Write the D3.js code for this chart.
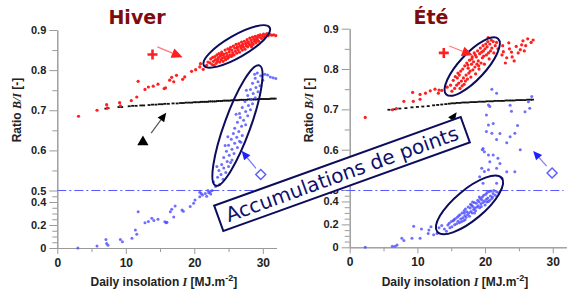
<!DOCTYPE html>
<html>
<head>
<meta charset="utf-8">
<script src="https://cdn.jsdelivr.net/npm/d3@7"></script>
<style>
body { margin: 0; background: #fff; }
svg text { font-family: "Liberation Sans", Arial, sans-serif; }
.axis .domain, .axis line { stroke: #9a9a9a; stroke-width: 1; }
.axis text { font-weight: bold; font-size: 11px; fill: #222; }
.axis.xax text { font-size: 12px; }
</style>
</head>
<body>
<svg id="chart" width="572" height="293"></svg>
<script>
// ---- data: [daily insolation, ratio B/I] ----
var hiverRed = [
	[3.1,0.685],[5.8,0.700],[7.2,0.714],[7.3,0.706],[9.1,0.719],[9.2,0.711],[10.8,0.724],[11.6,0.733],
	[11.8,0.772],[12.8,0.752],[13.3,0.758],[14.0,0.760],[14.7,0.765],[15.6,0.754],[15.8,0.756],[16.4,0.775],
	[16.7,0.782],[17.0,0.771],[17.4,0.787],[18.3,0.777],[18.6,0.783],[19.6,0.797],[20.2,0.801],[20.8,0.808],
	[20.9,0.816],[21.3,0.802],[21.8,0.812],[22.0,0.820],
	[22.3,0.818],[22.4,0.828],[22.6,0.814],[22.7,0.832],[22.8,0.822],[22.9,0.812],[23.0,0.834],[23.1,0.826],
	[23.2,0.817],[23.3,0.838],[23.4,0.822],[23.5,0.831],[23.6,0.841],[23.7,0.820],[23.8,0.835],[23.9,0.826],
	[24.0,0.845],[24.1,0.830],[24.2,0.822],[24.3,0.840],[24.4,0.833],[24.5,0.850],[24.6,0.828],[24.7,0.842],
	[24.8,0.836],[24.9,0.853],[25.0,0.832],[25.1,0.846],[25.2,0.838],[25.3,0.857],[25.4,0.834],[25.5,0.850],
	[25.6,0.843],[25.7,0.860],[25.8,0.838],[25.9,0.855],[26.0,0.847],[26.1,0.864],[26.2,0.842],[26.3,0.858],
	[26.4,0.850],[26.5,0.866],[26.6,0.845],[26.7,0.860],[26.8,0.855],[26.9,0.870],[27.0,0.850],[27.1,0.864],
	[27.2,0.857],[27.3,0.872],[27.4,0.852],[27.5,0.866],[27.6,0.861],[27.7,0.876],[27.8,0.858],[27.9,0.870],
	[28.0,0.865],[28.1,0.880],[28.2,0.862],[28.3,0.874],[28.4,0.868],[28.5,0.882],[28.6,0.864],[28.7,0.877],
	[28.8,0.872],[28.9,0.884],[29.0,0.868],[29.1,0.880],[29.2,0.876],[29.3,0.886],[29.4,0.872],[29.5,0.882],
	[29.6,0.888],[29.8,0.879],[29.9,0.886],[30.1,0.890],[30.2,0.882],[30.4,0.887],[30.6,0.891],[30.8,0.886],
	[31.0,0.889],[31.3,0.887],[31.6,0.888],[31.9,0.886],
	[23.45,0.828],[24.15,0.838],[24.85,0.829],[25.55,0.837],[26.25,0.855],[26.95,0.861],[27.65,0.868],
	[28.35,0.858],[29.05,0.875],[25.15,0.852],[24.55,0.826],[23.85,0.840]
];
var hiverBlack = [
	[7.1,0.704],[7.4,0.705],[9.0,0.708],[9.4,0.708],[10.5,0.710],[11.0,0.711],[11.5,0.711],[12.2,0.712],
	[12.6,0.712],[13.4,0.713],[13.9,0.714],[14.4,0.714],[14.9,0.715],[15.3,0.715],[15.7,0.716],[16.2,0.716],
	[16.9,0.717],[17.5,0.717],[18.0,0.718],[18.4,0.718],[18.8,0.719],[19.2,0.719],[19.6,0.719],[20.0,0.720],
	[20.3,0.720],[20.7,0.720],[21.0,0.721],[21.3,0.721],[21.6,0.721],[21.9,0.721],[22.2,0.722],[22.5,0.722],
	[22.8,0.722],[23.1,0.722],[23.4,0.723],[23.7,0.723],[24.0,0.723],[24.3,0.724],[24.6,0.724],[24.9,0.724],
	[25.2,0.724],[25.5,0.725],[25.8,0.725],[26.1,0.725],[26.4,0.725],[26.7,0.726],[27.0,0.726],[27.3,0.726],
	[27.6,0.726],[27.9,0.727],[28.2,0.727],[28.5,0.727],[28.8,0.727],[29.1,0.727],[29.4,0.728],[29.7,0.728],
	[30.0,0.728],[30.3,0.728],[30.6,0.728],[30.9,0.728],[31.2,0.729],[31.5,0.729],[31.8,0.729]
];
var hiverBlue = [
	[3.0,0.000],[5.8,0.017],[7.1,0.075],[7.2,0.040],[7.4,0.025],[9.2,0.075],[9.5,0.055],[10.9,0.085],
	[11.4,0.157],[11.6,0.120],[11.8,0.316],[12.8,0.220],[13.3,0.230],[13.8,0.258],[14.1,0.240],[14.7,0.250],
	[15.7,0.229],[15.9,0.220],[16.0,0.225],[16.5,0.316],[16.7,0.336],[17.2,0.365],[17.0,0.270],[18.2,0.330],
	[18.4,0.320],[19.4,0.360],[19.9,0.390],[20.1,0.417],[20.8,0.446],[21.0,0.475],[20.8,0.485],[21.2,0.460],
	[21.6,0.475],[21.8,0.450],[22.0,0.500],[22.3,0.490],[22.6,0.500],[22.1,0.480],[22.4,0.470],
	[23.1,0.510],[23.7,0.515],[22.8,0.522],[24.2,0.528],[23.4,0.533],[23.9,0.540],[24.6,0.545],[23.6,0.550],
	[24.3,0.556],[25.0,0.560],[24.0,0.565],[24.8,0.572],[25.5,0.576],[24.3,0.582],[25.1,0.588],[25.8,0.592],
	[24.7,0.598],[25.5,0.603],[26.3,0.607],[25.0,0.613],[25.9,0.618],[26.6,0.623],[25.4,0.628],[26.2,0.633],
	[27.0,0.637],[25.7,0.642],[26.5,0.647],[25.9,0.655],[26.9,0.660],[27.5,0.664],[26.3,0.670],[27.2,0.675],
	[26.7,0.682],[27.8,0.686],[26.6,0.692],[27.5,0.697],[28.2,0.701],[27.0,0.707],[27.9,0.712],[28.5,0.716],
	[27.4,0.722],[28.3,0.727],[28.9,0.731],[27.8,0.737],[28.6,0.742],[29.3,0.746],[28.2,0.752],[29.0,0.757],
	[29.6,0.761],[28.5,0.767],[29.3,0.771],[30.0,0.775],[28.9,0.780],[29.7,0.786],[30.3,0.790],[29.2,0.793],
	[30.7,0.788],[31.1,0.783],[31.5,0.781],[31.9,0.779],[24.9,0.634],[26.1,0.690],[27.6,0.750],[24.5,0.612],
	[28.8,0.790],[25.3,0.570],[26.8,0.620],[23.3,0.560]
];
var eteRed = [
	[2.3,0.680],[6.3,0.699],[6.9,0.702],[8.0,0.720],[9.3,0.742],[9.4,0.720],[10.4,0.737],[10.4,0.725],
	[11.2,0.740],[11.9,0.746],[12.6,0.750],[13.1,0.740],[13.2,0.748],[13.6,0.747],[14.4,0.755],
	[14.9,0.760],[15.1,0.745],[15.3,0.772],[15.5,0.752],[15.6,0.781],[15.8,0.760],[16.0,0.790],[16.1,0.765],
	[16.3,0.752],[16.4,0.795],[16.5,0.770],[16.7,0.800],[16.8,0.778],[16.9,0.762],[17.0,0.808],[17.2,0.785],
	[17.3,0.815],[17.4,0.775],[17.5,0.802],[17.6,0.790],[17.7,0.822],[17.8,0.795],[17.9,0.780],[18.0,0.812],
	[18.1,0.830],[18.2,0.798],[18.3,0.818],[18.4,0.840],[18.5,0.805],[18.6,0.788],[18.7,0.830],[18.8,0.812],
	[18.9,0.845],[19.0,0.820],[19.1,0.800],[19.2,0.838],[19.3,0.852],[19.4,0.815],[19.5,0.842],[19.6,0.828],
	[19.7,0.858],[19.8,0.832],[19.9,0.812],[20.0,0.850],[20.1,0.862],[20.2,0.835],[20.3,0.855],[20.4,0.868],
	[20.5,0.840],[20.6,0.825],[20.7,0.862],[20.8,0.845],[20.9,0.872],[21.0,0.852],[21.2,0.868],[21.3,0.840],
	[21.5,0.858],[21.7,0.866],[21.9,0.850],
	[16.2,0.785],[17.1,0.770],[18.05,0.825],[19.05,0.808],[19.75,0.845],[17.45,0.810],[18.55,0.835],
	[20.45,0.878],[15.9,0.778],[16.6,0.758],
	[22.5,0.835],[22.7,0.843],[23.5,0.865],[24.0,0.830],[24.9,0.840],[25.4,0.860],[25.6,0.870],[26.3,0.875],
	[24.3,0.820],[23.6,0.850],[23.2,0.828],[24.6,0.856],[25.2,0.848],[26.0,0.858],[26.8,0.866],[27.1,0.872],
	[22.6,0.858],[23.9,0.842],[25.8,0.845],[23.0,0.815]
];
var eteBlack = [
	[5.8,0.699],[6.6,0.700],[7.4,0.702],[8.3,0.703],[9.2,0.705],[10.0,0.706],[10.8,0.707],[11.6,0.708],
	[12.4,0.710],[13.0,0.711],[13.6,0.712],[14.2,0.713],[14.7,0.714],[15.1,0.715],[15.5,0.715],[15.9,0.716],
	[16.3,0.716],[16.7,0.717],[17.1,0.717],[17.5,0.717],[17.9,0.718],[18.3,0.718],[18.7,0.718],[19.1,0.719],
	[19.5,0.719],[19.9,0.719],[20.3,0.720],[20.7,0.720],[21.1,0.720],[21.5,0.721],[21.9,0.721],[22.3,0.721],
	[22.7,0.721],[23.1,0.722],[23.5,0.722],[23.9,0.722],[24.3,0.722],[24.7,0.723],[25.1,0.723],[25.5,0.723],
	[25.9,0.723],[26.3,0.724],[26.7,0.724],[27.0,0.724]
];
var eteBlue = [
	[2.3,0.000],[6.3,0.010],[6.7,0.010],[7.0,0.020],[7.7,0.078],[8.0,0.060],[9.2,0.078],[9.45,0.184],
	[10.4,0.080],[10.6,0.160],[11.6,0.120],[11.7,0.150],[12.0,0.180],[12.4,0.110],[12.9,0.120],[13.2,0.170],
	[13.6,0.190],
	[14.0,0.160],[14.3,0.140],[14.5,0.195],[14.8,0.170],[15.0,0.225],[15.1,0.180],[15.3,0.232],[15.5,0.196],
	[15.6,0.250],[15.8,0.205],[15.9,0.262],[16.0,0.228],[16.2,0.215],[16.3,0.285],[16.4,0.246],[16.6,0.300],
	[16.7,0.258],[16.8,0.232],[16.9,0.318],[17.0,0.276],[17.1,0.335],[17.2,0.262],[17.3,0.310],[17.4,0.285],
	[17.5,0.352],[17.6,0.300],[17.7,0.270],[17.8,0.342],[17.9,0.312],[18.0,0.368],[18.1,0.300],[18.2,0.355],
	[18.3,0.330],[18.4,0.390],[18.5,0.342],[18.6,0.318],[18.7,0.385],[18.8,0.352],[18.9,0.410],[19.0,0.362],
	[19.1,0.398],[19.2,0.345],[19.3,0.425],[19.4,0.380],[19.5,0.415],[19.6,0.440],[19.7,0.392],[19.8,0.455],
	[19.9,0.405],[20.0,0.370],[20.1,0.462],[20.2,0.420],[20.3,0.478],[20.4,0.430],[20.5,0.400],[20.6,0.488],
	[20.8,0.448],[20.9,0.492],[21.0,0.425],[21.2,0.470],[21.3,0.496],[21.5,0.455],[21.7,0.485],[22.0,0.475],
	[16.1,0.275],[17.05,0.240],[18.45,0.300],[19.15,0.440],[20.25,0.395],[15.4,0.240],[16.5,0.222],
	[17.85,0.375],[19.45,0.355],[21.1,0.440],[14.7,0.210],[18.15,0.395],[20.7,0.410],[16.95,0.300],
	[20.5,0.711],[20.2,0.686],[20.5,0.661],[21.2,0.665],[20.2,0.645],[21.0,0.641],[19.7,0.603],[19.9,0.595],
	[20.5,0.587],[21.2,0.587],[21.9,0.579],[19.5,0.554],[19.9,0.546],[20.5,0.550],[21.7,0.554],[22.2,0.566],
	[23.2,0.545],[24.4,0.545],[23.7,0.632],[24.4,0.641],[25.2,0.600],[25.9,0.694],[26.6,0.703],[24.8,0.660],
	[23.2,0.617],[22.5,0.529],[19.2,0.533],[19.7,0.517],[21.7,0.517],[21.0,0.750],[21.7,0.740],[20.7,0.707],
	[23.7,0.710],[23.9,0.695],[26.9,0.732],[26.4,0.719],[21.7,0.625],[22.2,0.640],[19.6,0.600],[20.7,0.570]
];

// axis ticks
var xMajor = [0, 10, 20, 30];
var xMinor = [5, 15, 25];
var yMajor = [0, 0.2, 0.4, 0.5, 0.6, 0.7, 0.8, 0.9];
var yMinor = [0.05, 0.1, 0.15, 0.25, 0.3, 0.35, 0.45, 0.55, 0.65, 0.75, 0.85];

var svg = d3.select("#chart");

// piecewise y: 0..0.5 is squeezed, 0.5..0.9 stretched
var panels = [
	{ title: "Hiver", left: 57.3, right: 276.5, bottom: 248, mid: 190.5, top: 30, tx: 137, ylx: 17,
	  red: hiverRed, black: hiverBlack, blue: hiverBlue,
	  plus: [13.9, 0.839], redArrow: [[14.6, 0.858], [18.3, 0.832]],
	  tri: [12.5, 0.621], blackArrow: [[13.7, 0.643], [15.9, 0.694]],
	  diamond: [29.7, 0.540], blueArrow: [[29.0, 0.555], [26.9, 0.599]],
	  ellipses: [{ c: [26.2, 0.859], rx: 38, ry: 11, a: -30 }, { c: [26.3, 0.662], rx: 64, ry: 13, a: -70 }] },
	{ title: "Été", left: 349.7, right: 566.3, bottom: 247.3, mid: 190, top: 28.7, tx: 431, ylx: 309,
	  red: eteRed, black: eteBlack, blue: eteBlue,
	  plus: [13.9, 0.840], redArrow: [[14.7, 0.857], [18.2, 0.834]],
	  tri: [12.5, 0.621], blackArrow: [[13.7, 0.643], [15.8, 0.693]],
	  diamond: [29.9, 0.542], blueArrow: [[29.1, 0.559], [27.1, 0.597]],
	  ellipses: [{ c: [18.1, 0.806], rx: 38, ry: 13, a: -47 }, { c: [17.7, 0.37], rx: 42, ry: 15, a: -40 }] }
];

panels.forEach(function (p) {
	p.x = d3.scaleLinear().domain([0, 32]).range([p.left, p.right]);
	p.y = d3.scaleLinear().domain([0, 0.5, 0.9]).range([p.bottom, p.mid, p.top]);
});

// draws an arrow line ending in a filled triangle head
function arrow(g, a, b, color, lineColor, len) {
	var dx = b[0] - a[0], dy = b[1] - a[1];
	var d = Math.sqrt(dx * dx + dy * dy), ux = dx / d, uy = dy / d;
	var bx = b[0] - ux * len, by = b[1] - uy * len;
	g.append("line").attr("x1", a[0]).attr("y1", a[1]).attr("x2", bx).attr("y2", by)
		.attr("stroke", lineColor).attr("stroke-width", 1.2);
	var w = len * 0.45;
	g.append("path")
		.attr("d", "M" + b[0] + "," + b[1] + "L" + (bx - uy * w) + "," + (by + ux * w) + "L" + (bx + uy * w) + "," + (by - ux * w) + "Z")
		.attr("fill", color);
}

panels.forEach(function (p) {
	var g = svg.append("g");
	var x = p.x, y = p.y;

	// axes
	g.append("g").attr("class", "axis xax").attr("transform", "translate(0," + p.bottom + ")")
		.call(d3.axisBottom(x).tickValues(xMinor).tickSize(4).tickSizeOuter(0).tickFormat(""));
	g.append("g").attr("class", "axis xax").attr("transform", "translate(0," + p.bottom + ")")
		.call(d3.axisBottom(x).tickValues(xMajor).tickSize(6).tickSizeOuter(0).tickPadding(4));
	g.append("g").attr("class", "axis").attr("transform", "translate(" + p.left + ",0)")
		.call(d3.axisLeft(y).tickValues(yMinor).tickSize(5).tickSizeOuter(0).tickFormat(""));
	g.append("g").attr("class", "axis").attr("transform", "translate(" + p.left + ",0)")
		.call(d3.axisLeft(y).tickValues(yMajor).tickSize(8).tickSizeOuter(0).tickPadding(3)
			.tickFormat(function (d) { return d === 0 ? "0" : d3.format(".1f")(d); }));

	// titles
	g.append("text").attr("x", p.tx).attr("y", 24).attr("text-anchor", "middle")
		.style("font-family", "DejaVu Sans").style("font-weight", "bold").style("font-size", "19px")
		.attr("fill", "#7d0d0d").text(p.title);

	var yl = g.append("text").attr("transform", "translate(" + (p.ylx + 4) + ",110) rotate(-90)")
		.attr("text-anchor", "middle").style("font-weight", "bold").style("font-size", "12px").attr("fill", "#222");
	yl.append("tspan").text("Ratio ");
	yl.append("tspan").style("font-family", "Liberation Serif").style("font-style", "italic").text("B/I");
	yl.append("tspan").text(" [-]");

	var xl = g.append("text").attr("x", (p.left + p.right) / 2 - 3).attr("y", 286).attr("text-anchor", "middle")
		.style("font-weight", "bold").style("font-size", "12px").attr("fill", "#222");
	xl.append("tspan").text("Daily insolation ");
	xl.append("tspan").style("font-family", "Liberation Serif").style("font-style", "italic").text("I");
	xl.append("tspan").text(" [MJ.m");
	xl.append("tspan").attr("dy", -5).style("font-size", "9px").text("-2");
	xl.append("tspan").attr("dy", 5).text("]");
});

// dash-dot line at ratio 0.5 across both panels
svg.append("line")
	.attr("x1", panels[0].x(0)).attr("x2", panels[1].x(31.6))
	.attr("y1", panels[0].y(0.5)).attr("y2", panels[0].y(0.5))
	.attr("stroke", "#5a5aff").attr("stroke-width", 1.2).attr("stroke-dasharray", "9,3,2,3");

panels.forEach(function (p) {
	var g = svg.append("g");
	var x = p.x, y = p.y;

	g.selectAll("rect.black").data(p.black).enter().append("rect").attr("class", "black")
		.attr("x", function (d) { return x(d[0]) - 1.5; })
		.attr("y", function (d) { return y(d[1]) - 0.9; })
		.attr("width", 3).attr("height", 1.8).attr("fill", "#111");

	g.selectAll("circle.red").data(p.red).enter().append("circle").attr("class", "red")
		.attr("cx", function (d) { return x(d[0]); })
		.attr("cy", function (d) { return y(d[1]); })
		.attr("r", 1.6).attr("fill", "#ff1f1f");

	g.selectAll("circle.blue").data(p.blue).enter().append("circle").attr("class", "blue")
		.attr("cx", function (d) { return x(d[0]); })
		.attr("cy", function (d) { return y(d[1]); })
		.attr("r", 1.5).attr("fill", "#4b4bff").attr("fill-opacity", 0.8);

	// ellipses round the point accumulations
	p.ellipses.forEach(function (e) {
		g.append("ellipse")
			.attr("transform", "translate(" + x(e.c[0]) + "," + y(e.c[1]) + ") rotate(" + e.a + ")")
			.attr("rx", e.rx).attr("ry", e.ry)
			.attr("fill", "none").attr("stroke", "#0c0c5c").attr("stroke-width", 2);
	});

	// series symbols with arrows
	var px = x(p.plus[0]), py = y(p.plus[1]);
	g.append("path").attr("d", "M" + (px - 5) + "," + py + "H" + (px + 5) + "M" + px + "," + (py - 5) + "V" + (py + 5))
		.attr("stroke", "#ff1f1f").attr("stroke-width", 2.6);
	arrow(g, [x(p.redArrow[0][0]), y(p.redArrow[0][1])], [x(p.redArrow[1][0]), y(p.redArrow[1][1])], "#ff1f1f", "#ff7a7a", 11);

	g.append("path").attr("d", d3.symbol(d3.symbolTriangle, 55))
		.attr("transform", "translate(" + x(p.tri[0]) + "," + y(p.tri[1]) + ")").attr("fill", "#000");
	arrow(g, [x(p.blackArrow[0][0]), y(p.blackArrow[0][1])], [x(p.blackArrow[1][0]), y(p.blackArrow[1][1])], "#000", "#555", 9);

	var dx = x(p.diamond[0]), dy = y(p.diamond[1]);
	g.append("path").attr("d", "M" + dx + "," + (dy - 5) + "L" + (dx + 5) + "," + dy + "L" + dx + "," + (dy + 5) + "L" + (dx - 5) + "," + dy + "Z")
		.attr("fill", "none").attr("stroke", "#5a5aff").attr("stroke-width", 1.4);
	arrow(g, [x(p.blueArrow[0][0]), y(p.blueArrow[0][1])], [x(p.blueArrow[1][0]), y(p.blueArrow[1][1])], "#2020ff", "#7a7aff", 9);
});

// rotated annotation box
var note = svg.append("g").attr("transform", "translate(342,174) rotate(-19.8)");
note.append("rect").attr("x", -131).attr("y", -13.5).attr("width", 262).attr("height", 27)
	.attr("fill", "#fff").attr("stroke", "#0c0c5c").attr("stroke-width", 2);
note.append("text").attr("x", 0).attr("y", 7).attr("text-anchor", "middle")
	.style("font-family", "DejaVu Sans").style("font-size", "20px").attr("fill", "#10106a")
	.text("Accumulations de points");
</script>
</body>
</html>
